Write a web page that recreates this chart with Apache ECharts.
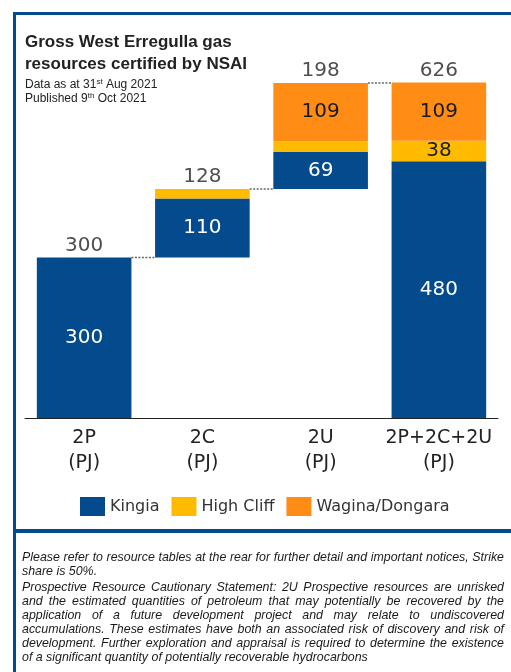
<!DOCTYPE html>
<html>
<head>
<meta charset="utf-8">
<script src="https://cdn.jsdelivr.net/npm/echarts@6/dist/echarts.min.js"></script>
<style>
  html, body { margin: 0; padding: 0; background: #fff; }
  #chart { width: 511px; height: 672px; }
</style>
</head>
<body>
<div id="chart"></div>
<script>
// chart values
const categories = ['2P', '2C', '2U', '2P+2C+2U'];
const unitLabel = '(PJ)';
const base = [0, 300, 428, 0];        // waterfall offsets
const kingia = [300, 110, 69, 480];
const highCliff = [0, 18, 20, 38];
const wagina = [0, 0, 109, 109];
const totals = [300, 128, 198, 626];

const BLUE = '#034b8c';
const YELLOW = '#ffbb00';
const ORANGE = '#ff8c14';
const FONT = 'DejaVu Sans';

// top of each stacked bar, for the total labels and the connectors
const tops = categories.map((c, i) => base[i] + kingia[i] + highCliff[i] + wagina[i]);
const connectors = [0, 1, 2].map((i) => [i, tops[i]]);

const chart = echarts.init(document.getElementById('chart'));

const segLabel = (color, minVal) => ({
    show: true,
    position: 'inside',
    color: color,
    fontFamily: FONT,
    fontSize: 20,
    formatter: (p) => (p.value > minVal ? p.value : '')
});

// footnote, justified like the source (last line of each paragraph is left aligned)
const footLines = [
    'Please refer to resource tables at the rear for further detail and important notices, Strike',
    'share is 50%.',
    'Prospective Resource Cautionary Statement: 2U Prospective resources are unrisked',
    'and the estimated quantities of petroleum that may potentially be recovered by the',
    'application of a future development project and may relate to undiscovered',
    'accumulations. These estimates have both an associated risk of discovery and risk of',
    'development. Further exploration and appraisal is required to determine the existence',
    'of a significant quantity of potentially recoverable hydrocarbons'
];
const footY = [558, 572, 588, 602, 616, 630, 644, 658];
const footJustify = [true, false, true, true, true, true, true, false];
const FOOT_FONT = 'italic 12.4px "Liberation Sans"';
const FOOT_LEFT = 22;
const FOOT_RIGHT = 504;

const measure = document.createElement('canvas').getContext('2d');
measure.font = FOOT_FONT;

const footGraphics = [];
footLines.forEach((line, i) => {
    if (!footJustify[i]) {
        footGraphics.push({
            type: 'text', x: FOOT_LEFT, y: footY[i],
            style: { text: line, font: FOOT_FONT, fill: '#1a1a1a', verticalAlign: 'middle' }
        });
        return;
    }
    const words = line.split(' ');
    const widths = words.map((w) => measure.measureText(w).width);
    const used = widths.reduce((a, b) => a + b, 0);
    const gap = (FOOT_RIGHT - FOOT_LEFT - used) / (words.length - 1);
    let x = FOOT_LEFT;
    words.forEach((w, k) => {
        footGraphics.push({
            type: 'text', x: x, y: footY[i],
            style: { text: w, font: FOOT_FONT, fill: '#1a1a1a', verticalAlign: 'middle' }
        });
        x += widths[k] + gap;
    });
});

const option = {
    animation: false,
    grid: { left: 25, right: 13, top: 43.4, bottom: 254 },
    legend: {
        data: ['Kingia', 'High Cliff', 'Wagina/Dongara'],
        left: 75,
        top: 492,
        itemWidth: 25,
        itemHeight: 19,
        itemGap: 12,
        icon: 'rect',
        textStyle: { fontFamily: FONT, fontSize: 16, color: '#333' }
    },
    xAxis: {
        type: 'category',
        data: categories,
        axisTick: { show: false },
        axisLine: { lineStyle: { color: '#222', width: 1 } },
        axisLabel: {
            interval: 0,
            margin: 8,
            fontFamily: FONT,
            fontSize: 19,
            lineHeight: 25,
            color: '#222',
            formatter: (v) => v + '\n' + unitLabel
        }
    },
    yAxis: { type: 'value', min: 0, max: 700, show: false },
    series: [
        {
            name: 'base',
            type: 'bar',
            stack: 'w',
            barWidth: '80%',
            silent: true,
            itemStyle: { color: 'transparent' },
            data: base
        },
        {
            name: 'Kingia',
            type: 'bar',
            stack: 'w',
            itemStyle: { color: BLUE },
            label: segLabel('#fff', 0),
            data: kingia
        },
        {
            name: 'High Cliff',
            type: 'bar',
            stack: 'w',
            itemStyle: { color: YELLOW },
            label: segLabel('#1a1a1a', 30),
            data: highCliff
        },
        {
            name: 'Wagina/Dongara',
            type: 'bar',
            stack: 'w',
            itemStyle: { color: ORANGE },
            label: segLabel('#1a1a1a', 0),
            data: wagina
        },
        {
            // total above each bar
            name: 'total',
            type: 'scatter',
            symbolSize: 0,
            silent: true,
            label: {
                show: true,
                position: 'top',
                distance: 2,
                fontFamily: FONT,
                fontSize: 20,
                color: '#222',
                formatter: (p) => totals[p.dataIndex]
            },
            data: tops
        },
        {
            // dotted step lines between bars
            name: 'connector',
            type: 'custom',
            silent: true,
            encode: { x: 0, y: 1 },
            renderItem: (params, api) => {
                const i = api.value(0);
                const lvl = api.value(1);
                const a = api.coord([i, lvl]);
                const b = api.coord([i + 1, lvl]);
                const half = api.size([1, 0])[0] * 0.4;
                return {
                    type: 'line',
                    shape: { x1: a[0] + half, y1: a[1], x2: b[0] - half, y2: a[1] },
                    style: { stroke: '#666', lineWidth: 1.5, lineDash: [2, 1.5] }
                };
            },
            data: connectors
        }
    ],
    graphic: [
        { type: 'rect', shape: { x: 13, y: 12, width: 498, height: 3 }, style: { fill: BLUE } },
        { type: 'rect', shape: { x: 13, y: 12, width: 3, height: 660 }, style: { fill: BLUE } },
        { type: 'rect', shape: { x: 13, y: 529, width: 498, height: 4 }, style: { fill: BLUE } },
        {
            type: 'text', left: 25, top: 31,
            style: {
                text: 'Gross West Erregulla gas\nresources certified by NSAI',
                font: 'bold 17px "Liberation Sans"',
                lineHeight: 22,
                fill: '#222'
            }
        },
        {
            type: 'text', left: 25, top: 78,
            style: {
                text: 'Data as at 31{sup|st} Aug 2021\nPublished 9{sup|th} Oct 2021',
                font: '12px "Liberation Sans"',
                lineHeight: 14,
                fill: '#222',
                rich: {
                    sup: { fontSize: 8, fontFamily: 'Liberation Sans', verticalAlign: 'top', lineHeight: 14, fill: '#222' }
                }
            }
        }
    ].concat(footGraphics)
};

chart.setOption(option);
</script>
</body>
</html>
